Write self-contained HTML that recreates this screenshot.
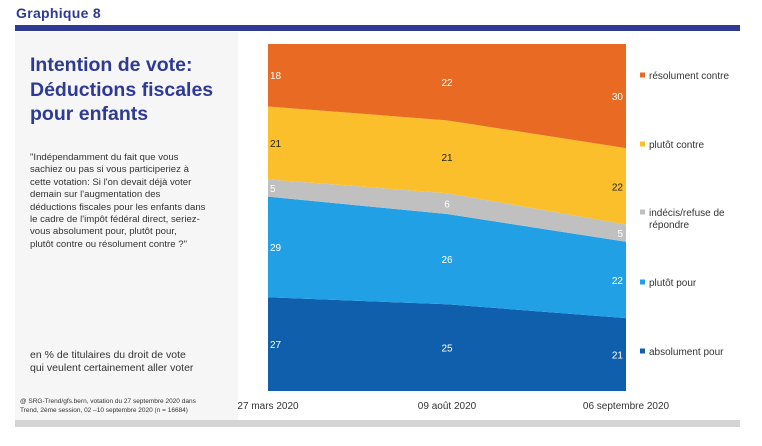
<!DOCTYPE html>
<html><head><meta charset="utf-8"><style>
body{margin:0;width:762px;height:446px;background:#fff;font-family:"Liberation Sans",sans-serif;overflow:hidden;position:relative}
.abs{position:absolute}
</style></head><body>
<div class="abs" style="left:16px;top:5px;font-size:14px;font-weight:bold;color:#2e3a93;letter-spacing:0.3px">Graphique 8</div>
<div class="abs" style="left:15px;top:25px;width:725px;height:6px;background:#2e3a93"></div>
<div class="abs" style="left:15px;top:32px;width:223px;height:388px;background:#f6f6f6"></div>
<div class="abs" style="left:30px;top:53px;font-size:19.5px;font-weight:bold;color:#2e3a93;line-height:24.5px">Intention de vote:<br>Déductions fiscales<br>pour enfants</div>
<div class="abs" style="left:30px;top:152px;white-space:nowrap;font-size:9.6px;color:#333;line-height:12.4px">"Indépendamment du fait que vous<br>sachiez ou pas si vous participeriez à<br>cette votation: Si l'on devait déjà voter<br>demain sur l'augmentation des<br>déductions fiscales pour les enfants dans<br>le cadre de l'impôt fédéral direct, seriez-<br>vous absolument pour, plutôt pour,<br>plutôt contre ou résolument contre ?"</div>
<div class="abs" style="left:30px;top:349px;font-size:10.5px;color:#333;line-height:13px">en % de titulaires du droit de vote<br>qui veulent certainement aller voter</div>
<div class="abs" style="left:20px;top:398px;font-size:6.5px;color:#333;line-height:8.5px">@ SRG-Trend/gfs.bern, votation du 27 septembre 2020 dans<br>Trend, 2ème session, 02 –10 septembre 2020 (n = 16684)</div>
<div class="abs" style="left:15px;top:420px;width:725px;height:7px;background:#d4d4d4"></div>
<svg class="abs" style="left:0;top:0" width="762" height="446" id="chart"></svg>
<script>
const dates=["27 mars 2020","09 août 2020","06 septembre 2020"];
const absolumentPour=[27,25,21];
const plutotPour=[29,26,22];
const indecis=[5,6,5];
const plutotContre=[21,21,22];
const resolumentContre=[18,22,30];
const seriesNames=["absolument pour","plutôt pour","indécis/refuse de répondre","plutôt contre","résolument contre"];
const series=[absolumentPour,plutotPour,indecis,plutotContre,resolumentContre];
const colors=["#0f5fad","#21a0e6","#c0c0c0","#fbbf2b","#e86a23"];
const ns="http://www.w3.org/2000/svg";
const svg=document.getElementById('chart');
const x0=268,x1=626,y0=391,y1=44;
const xs=i=>x0+(x1-x0)*i/(dates.length-1);
const ys=v=>y0-(y0-y1)*v/100;
let cum=dates.map(()=>0);
series.forEach((s,k)=>{
  const lo=cum.slice(),hi=cum.map((c,i)=>c+s[i]);
  let d="M"+dates.map((_,i)=>xs(i)+","+ys(hi[i])).join("L");
  for(let i=dates.length-1;i>=0;i--)d+="L"+xs(i)+","+ys(lo[i]);
  const p=document.createElementNS(ns,'path');
  p.setAttribute('d',d+"Z");p.setAttribute('fill',colors[k]);
  
  
  svg.appendChild(p);
  dates.forEach((_,i)=>{
    const t=document.createElementNS(ns,'text');
    const anchor=i===0?'start':(i===dates.length-1?'end':'middle');
    t.setAttribute('x',xs(i)+(i===0?2:(i===dates.length-1?-3:0)));
    t.setAttribute('y',ys((lo[i]+hi[i])/2)+4);
    t.setAttribute('text-anchor',anchor);
    t.setAttribute('font-size','10');
    t.setAttribute('fill',k===3?'#222':'#fff');
    
    
    t.textContent=s[i];svg.appendChild(t);
  });
  cum=hi;
});
dates.forEach((dt,i)=>{
  const t=document.createElementNS(ns,'text');
  t.setAttribute('x',xs(i));t.setAttribute('y',409);
  t.setAttribute('text-anchor','middle');t.setAttribute('font-size','10');t.setAttribute('fill','#333');
  
  
  t.textContent=dt;svg.appendChild(t);
});
const legY=[352,283,213,145,76];
seriesNames.forEach((n,k)=>{
  const r=document.createElementNS(ns,'rect');
  r.setAttribute('x',640);r.setAttribute('y',legY[k]-3.5);r.setAttribute('width',5);r.setAttribute('height',5);r.setAttribute('fill',colors[k]);
  
  
  svg.appendChild(r);
  const t=document.createElementNS(ns,'text');
  t.setAttribute('x',649);t.setAttribute('y',legY[k]+3);t.setAttribute('font-size','10');t.setAttribute('fill','#333');
  
  
  if(k===2){t.innerHTML='<tspan x="649">indécis/refuse de</tspan><tspan x="649" dy="12">répondre</tspan>';}
  else t.textContent=n;
  svg.appendChild(t);
});
</script>
</body></html>
